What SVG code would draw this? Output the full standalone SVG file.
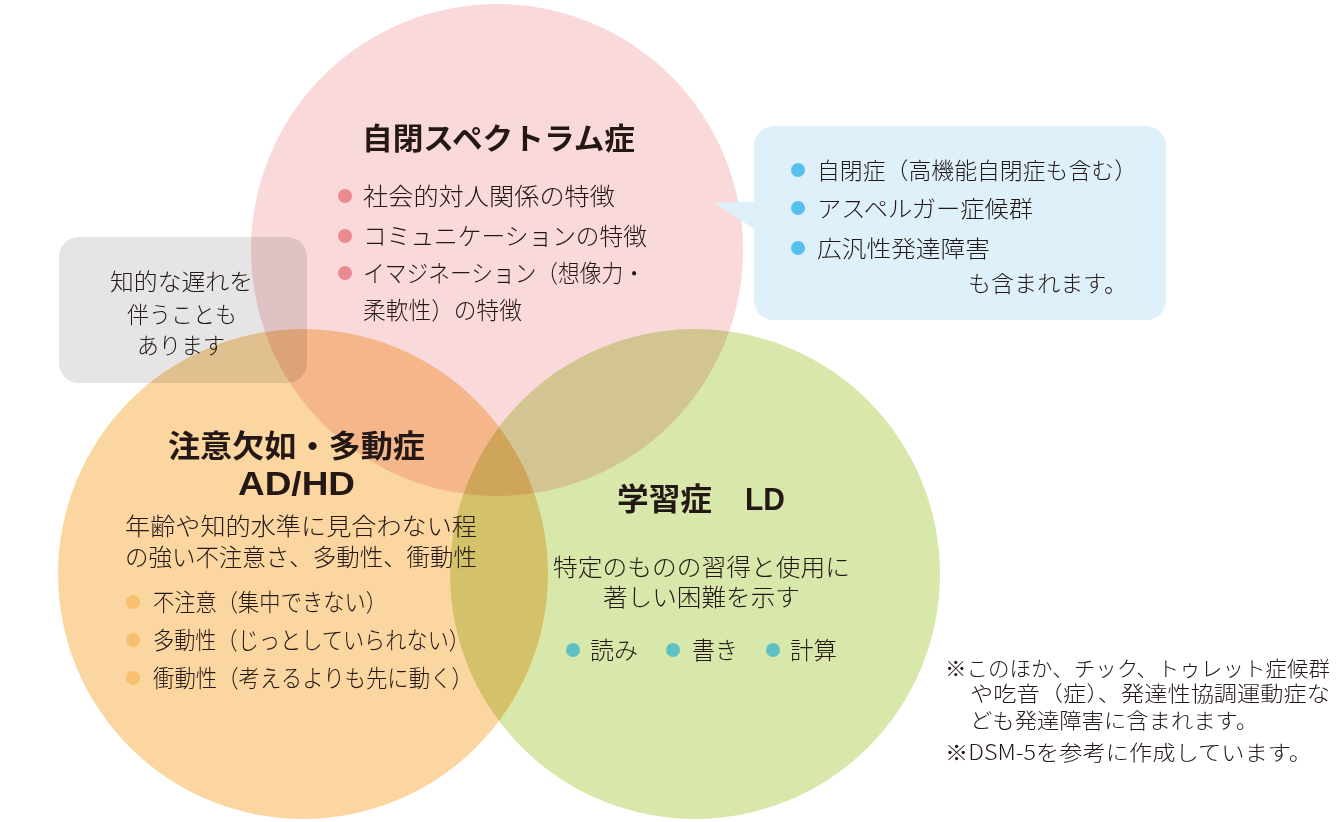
<svg xmlns="http://www.w3.org/2000/svg" width="1337" height="822" viewBox="0 0 1337 822">
<style>
.t{font-family:"Noto Sans CJK JP","Noto Sans",sans-serif;fill:#231815;font-weight:300;}
.b{font-family:"Noto Sans CJK JP","Noto Sans",sans-serif;fill:#231815;font-weight:700;}
.l{font-family:"Liberation Sans",Arial,sans-serif;fill:#231815;font-weight:700;}
.mul{mix-blend-mode:multiply;}
</style>
<rect width="1337" height="822" fill="#ffffff"/>
<g id="circles">
<circle id="asd" class="mul" cx="497" cy="250" r="246" fill="#f9d9da"/>
<circle id="adhd" class="mul" cx="303" cy="574" r="245" fill="#fbd6a0"/>
<circle id="ld" class="mul" cx="695" cy="574" r="245" fill="#d8e8ab"/>
</g>
<g id="note-gray">
<rect class="mul" x="59" y="237" width="248" height="146" rx="20" fill="#e5e5e5"/>
<text class="t" font-size="23" x="110" y="290" textLength="143" lengthAdjust="spacingAndGlyphs">知的な遅れを</text>
<text class="t" font-size="23" x="127" y="323" textLength="110" lengthAdjust="spacingAndGlyphs">伴うことも</text>
<text class="t" font-size="23" x="137" y="354" textLength="88" lengthAdjust="spacingAndGlyphs">あります</text>
</g>
<g id="callout-blue">
<rect x="754" y="126" width="412" height="194" rx="20" fill="#def0fa"/>
<polygon points="715,203 760,201 760,233" fill="#def0fa"/>
<circle cx="798" cy="170" r="7" fill="#55c0ee"/>
<circle cx="798" cy="208" r="7" fill="#55c0ee"/>
<circle cx="798" cy="248" r="7" fill="#55c0ee"/>
<text class="t" font-size="23" x="817" y="179" textLength="320" lengthAdjust="spacingAndGlyphs">自閉症（高機能自閉症も含む）</text>
<text class="t" font-size="23" x="817" y="217" textLength="216" lengthAdjust="spacingAndGlyphs">アスペルガー症候群</text>
<text class="t" font-size="23" x="817" y="257" textLength="173" lengthAdjust="spacingAndGlyphs">広汎性発達障害</text>
<text class="t" font-size="23" x="968" y="292" textLength="159" lengthAdjust="spacingAndGlyphs">も含まれます。</text>
</g>
<g id="asd-text">
<text class="b" font-size="30" x="362" y="149" textLength="273" lengthAdjust="spacingAndGlyphs">自閉スペクトラム症</text>
<circle cx="345" cy="196" r="7" fill="#ec8a92"/>
<circle cx="345" cy="236" r="7" fill="#ec8a92"/>
<circle cx="345" cy="273" r="7" fill="#ec8a92"/>
<text class="t" font-size="24" x="363" y="205" textLength="252" lengthAdjust="spacingAndGlyphs">社会的対人関係の特徴</text>
<text class="t" font-size="24" x="363" y="245" textLength="284" lengthAdjust="spacingAndGlyphs">コミュニケーションの特徴</text>
<text class="t" font-size="24" x="363" y="282" textLength="282" lengthAdjust="spacingAndGlyphs">イマジネーション（想像力・</text>
<text class="t" font-size="24" x="363" y="319" textLength="159" lengthAdjust="spacingAndGlyphs">柔軟性）の特徴</text>
</g>
<g id="adhd-text">
<text class="b" font-size="31" x="168" y="457" textLength="257" lengthAdjust="spacingAndGlyphs">注意欠如・多動症</text>
<text class="l" font-size="34" x="238" y="495" textLength="117" lengthAdjust="spacingAndGlyphs">AD/HD</text>
<text class="t" font-size="24" x="125" y="535" textLength="352" lengthAdjust="spacingAndGlyphs">年齢や知的水準に見合わない程</text>
<text class="t" font-size="24" x="125" y="566" textLength="352" lengthAdjust="spacingAndGlyphs">の強い不注意さ、多動性、衝動性</text>
<circle cx="133" cy="602" r="7" fill="#f7c06e"/>
<circle cx="133" cy="640" r="7" fill="#f7c06e"/>
<circle cx="133" cy="678" r="7" fill="#f7c06e"/>
<text class="t" font-size="24" x="153" y="611" textLength="234" lengthAdjust="spacingAndGlyphs">不注意（集中できない）</text>
<text class="t" font-size="24" x="153" y="649" textLength="317" lengthAdjust="spacingAndGlyphs">多動性（じっとしていられない）</text>
<text class="t" font-size="24" x="153" y="687" textLength="320" lengthAdjust="spacingAndGlyphs">衝動性（考えるよりも先に動く）</text>
</g>
<g id="ld-text">
<text class="b" font-size="31" x="617" y="510" textLength="95" lengthAdjust="spacingAndGlyphs">学習症</text>
<text class="l" font-size="32" x="745" y="510" textLength="40" lengthAdjust="spacingAndGlyphs">LD</text>
<text class="t" font-size="24" x="553" y="576" textLength="297" lengthAdjust="spacingAndGlyphs">特定のものの習得と使用に</text>
<text class="t" font-size="24" x="603" y="606" textLength="197" lengthAdjust="spacingAndGlyphs">著しい困難を示す</text>
<circle cx="573" cy="650" r="7" fill="#5fc1c4"/>
<circle cx="673" cy="650" r="7" fill="#5fc1c4"/>
<circle cx="773" cy="650" r="7" fill="#5fc1c4"/>
<text class="t" font-size="24" x="590" y="659" textLength="48" lengthAdjust="spacingAndGlyphs">読み</text>
<text class="t" font-size="24" x="692" y="659" textLength="46" lengthAdjust="spacingAndGlyphs">書き</text>
<text class="t" font-size="24" x="790" y="659" textLength="47" lengthAdjust="spacingAndGlyphs">計算</text>
</g>
<g id="footnotes">
<text class="t" font-size="21" x="945" y="676" textLength="385" lengthAdjust="spacingAndGlyphs">※このほか、チック、トゥレット症候群</text>
<text class="t" font-size="21" x="970" y="701" textLength="360" lengthAdjust="spacingAndGlyphs">や吃音（症）、発達性協調運動症な</text>
<text class="t" font-size="21" x="970" y="728" textLength="288" lengthAdjust="spacingAndGlyphs">ども発達障害に含まれます。</text>
<text class="t" font-size="21" x="945" y="760" textLength="367" lengthAdjust="spacingAndGlyphs">※DSM-5を参考に作成しています。</text>
</g>
</svg>
